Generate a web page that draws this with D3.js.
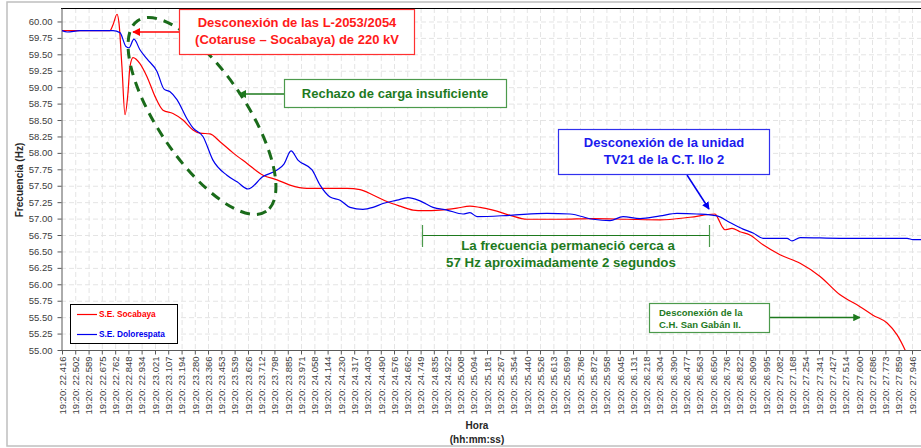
<!DOCTYPE html>
<html>
<head>
<meta charset="utf-8">
<script src="https://cdn.jsdelivr.net/npm/d3@7"></script>
<style>
  body { margin: 0; background: #fff; }
  svg { display: block; font-family: "Liberation Sans", Arial, sans-serif; }
</style>
</head>
<body>
<div class="chart"></div>
<script>
// Tick labels of the time axis (hh:mm: ss.sss)
var tickLabels = [
  "19:20: 22.416", "19:20: 22.502", "19:20: 22.589", "19:20: 22.675", "19:20: 22.762", "19:20: 22.848", "19:20: 22.934",
  "19:20: 23.021", "19:20: 23.107", "19:20: 23.194", "19:20: 23.280", "19:20: 23.366", "19:20: 23.453", "19:20: 23.539",
  "19:20: 23.626", "19:20: 23.712", "19:20: 23.798", "19:20: 23.885", "19:20: 23.971",
  "19:20: 24.058", "19:20: 24.144", "19:20: 24.230", "19:20: 24.317", "19:20: 24.403", "19:20: 24.490", "19:20: 24.576",
  "19:20: 24.662", "19:20: 24.749", "19:20: 24.835", "19:20: 24.922",
  "19:20: 25.008", "19:20: 25.094", "19:20: 25.181", "19:20: 25.267", "19:20: 25.354", "19:20: 25.440", "19:20: 25.526",
  "19:20: 25.613", "19:20: 25.699", "19:20: 25.786", "19:20: 25.872", "19:20: 25.958",
  "19:20: 26.045", "19:20: 26.131", "19:20: 26.218", "19:20: 26.304", "19:20: 26.390", "19:20: 26.477", "19:20: 26.563",
  "19:20: 26.650", "19:20: 26.736", "19:20: 26.822", "19:20: 26.909", "19:20: 26.995",
  "19:20: 27.082", "19:20: 27.168", "19:20: 27.254", "19:20: 27.341", "19:20: 27.427", "19:20: 27.514", "19:20: 27.600",
  "19:20: 27.686", "19:20: 27.773", "19:20: 27.859", "19:20: 27.946"
];

// Frequency axis ticks (Hz)
var freqTicks = [55.00, 55.25, 55.50, 55.75, 56.00, 56.25, 56.50, 56.75, 57.00, 57.25, 57.50, 57.75,
                 58.00, 58.25, 58.50, 58.75, 59.00, 59.25, 59.50, 59.75, 60.00];

// S.E. Socabaya: seconds after 19:20:00 and frequency (Hz)
var socabayaTime = [22.416, 22.728, 22.748, 22.774, 22.787, 22.806, 22.826, 22.845, 22.858, 22.878,
  22.923, 22.969, 23.021, 23.073, 23.138, 23.203, 23.268, 23.314, 23.379, 23.444,
  23.529, 23.620, 23.724, 23.815, 23.899, 24.010, 24.140, 24.270, 24.355, 24.439,
  24.530, 24.615, 24.700, 24.765, 24.875, 24.986, 25.070, 25.135, 25.220, 25.331,
  25.441, 25.656, 25.871, 26.092, 26.307, 26.502, 26.665, 26.685, 26.710, 26.729,
  26.775, 26.827, 26.891, 26.977, 27.087, 27.218, 27.348, 27.478, 27.608, 27.692,
  27.784, 27.849, 27.901, 27.920];
var socabayaFreq = [59.86, 59.86, 59.95, 60.11, 59.97, 59.31, 58.58, 58.91, 59.31, 59.45,
  59.36, 59.16, 58.86, 58.65, 58.60, 58.50, 58.35, 58.30, 58.29, 58.17,
  58.00, 57.84, 57.66, 57.59, 57.51, 57.46, 57.46, 57.46, 57.44, 57.36,
  57.26, 57.19, 57.13, 57.12, 57.13, 57.16, 57.19, 57.17, 57.13, 57.05,
  56.99, 56.99, 57.00, 56.99, 56.98, 57.02, 57.07, 57.00, 56.88, 56.83,
  56.85, 56.80, 56.75, 56.60, 56.45, 56.32, 56.12, 55.84, 55.66, 55.53,
  55.41, 55.23, 55.00, 54.90];

// S.E. Dolorespata: seconds after 19:20:00 and frequency (Hz)
var dolorespataTime = [22.416, 22.450, 22.533, 22.748, 22.793, 22.832, 22.852, 22.884, 22.923, 22.969,
  23.034, 23.080, 23.119, 23.164, 23.229, 23.268, 23.333, 23.398, 23.489, 23.555,
  23.626, 23.724, 23.815, 23.860, 23.906, 23.951, 24.043, 24.095, 24.160, 24.225,
  24.290, 24.374, 24.439, 24.504, 24.596, 24.667, 24.745, 24.830, 24.921, 25.025,
  25.070, 25.116, 25.331, 25.571, 25.721, 25.871, 25.981, 26.066, 26.177, 26.307,
  26.417, 26.547, 26.677, 26.761, 26.847, 26.912, 26.977, 27.133, 27.165, 27.218,
  27.478, 27.914, 27.953, 28.005];
var dolorespataFreq = [59.86, 59.84, 59.86, 59.86, 59.83, 59.62, 59.60, 59.73, 59.57, 59.43,
  59.24, 58.97, 58.93, 58.81, 58.52, 58.38, 58.25, 57.89, 57.66, 57.56,
  57.45, 57.64, 57.74, 57.83, 58.03, 57.89, 57.74, 57.51, 57.33, 57.28,
  57.17, 57.14, 57.17, 57.23, 57.28, 57.32, 57.27, 57.17, 57.13, 57.07,
  57.09, 57.03, 57.05, 57.08, 57.07, 56.99, 56.97, 57.03, 57.00, 57.04,
  57.08, 57.07, 57.04, 56.94, 56.84, 56.78, 56.70, 56.70, 56.66, 56.71,
  56.70, 56.70, 56.68, 56.68];

var svgWidth = 921;
var svgHeight = 448;

// plot area (the right side runs past the picture edge)
var plot = { left: 61, top: 8, right: 935, bottom: 350 };

var svg = d3.select(".chart")
  .append("svg")
  .attr("width", svgWidth)
  .attr("height", svgHeight);

// outer chart border
svg.append("rect")
  .attr("x", 7).attr("y", 2)
  .attr("width", 930).attr("height", 444)
  .attr("fill", "#fff")
  .attr("stroke", "#bfbfbf")
  .attr("stroke-width", 1.5);

var tickTimes = tickLabels.map(d => +d.split(":")[2]);

var x = d3.scaleLinear()
  .domain([tickTimes[0], tickTimes[tickTimes.length - 1]])
  .range([62, 912]);

var y = d3.scaleLinear()
  .domain([55, 60.205])
  .range([plot.bottom, plot.top]);

// grid
svg.append("g")
  .selectAll("line")
  .data(freqTicks.slice(1))
  .enter()
  .append("line")
  .attr("x1", plot.left).attr("x2", plot.right)
  .attr("y1", d => y(d) + 0.5).attr("y2", d => y(d) + 0.5)
  .attr("stroke", "#e4e4e4")
  .attr("stroke-dasharray", "5,3");

svg.append("g")
  .selectAll("line")
  .data(tickTimes.slice(1))
  .enter()
  .append("line")
  .attr("x1", d => x(d) + 0.5).attr("x2", d => x(d) + 0.5)
  .attr("y1", plot.top).attr("y2", plot.bottom)
  .attr("stroke", "#e4e4e4")
  .attr("stroke-dasharray", "5,3");

// plot top border
svg.append("line")
  .attr("x1", plot.left).attr("x2", plot.right)
  .attr("y1", plot.top + 0.5).attr("y2", plot.top + 0.5)
  .attr("stroke", "#000");

// axes
var leftAxis = d3.axisLeft(y)
  .tickValues(freqTicks)
  .tickFormat(d3.format(".2f"))
  .tickSize(4)
  .tickPadding(5)
  .tickSizeOuter(0);

var yAxisG = svg.append("g")
  .attr("transform", `translate(${plot.left + 0.5},0)`)
  .call(leftAxis);
yAxisG.select(".domain").attr("stroke", "#595959");
yAxisG.selectAll(".tick line").attr("stroke", "#595959");
yAxisG.selectAll("text")
  .attr("fill", "#404040")
  .style("font-size", "9.5px")
  .style("font-family", "Liberation Sans, Arial, sans-serif");

var bottomAxis = d3.axisBottom(x)
  .tickValues(tickTimes)
  .tickFormat((d, i) => tickLabels[i])
  .tickSize(4)
  .tickSizeOuter(0);

var xAxisG = svg.append("g")
  .attr("transform", `translate(0,${plot.bottom + 0.5})`)
  .call(bottomAxis);
xAxisG.select(".domain")
  .attr("stroke", "#595959")
  .attr("d", `M${plot.left},0H${plot.right}`);
xAxisG.selectAll(".tick line").attr("stroke", "#595959");
xAxisG.selectAll("text")
  .attr("fill", "#404040")
  .style("font-size", "9.5px")
  .style("font-family", "Liberation Sans, Arial, sans-serif")
  .attr("text-anchor", "end")
  .attr("transform", "rotate(-90)")
  .attr("x", -6)
  .attr("y", 0)
  .attr("dy", "0.35em");

// axis titles
svg.append("text")
  .attr("transform", "translate(23,180) rotate(-90)")
  .attr("text-anchor", "middle")
  .style("font-size", "10px")
  .style("font-weight", "bold")
  .attr("fill", "#262626")
  .text("Frecuencia (Hz)");

svg.append("text")
  .attr("x", 477).attr("y", 429)
  .attr("text-anchor", "middle")
  .style("font-size", "10px")
  .style("font-weight", "bold")
  .attr("fill", "#262626")
  .text("Hora");

svg.append("text")
  .attr("x", 477).attr("y", 443)
  .attr("text-anchor", "middle")
  .style("font-size", "10px")
  .style("font-weight", "bold")
  .attr("fill", "#262626")
  .text("(hh:mm:ss)");

// series
svg.append("clipPath").attr("id", "clip")
  .append("rect")
  .attr("x", plot.left).attr("y", plot.top)
  .attr("width", plot.right - plot.left).attr("height", plot.bottom - plot.top);

var line = d3.line()
  .x(d => x(d[0]))
  .y(d => y(d[1]))
  .curve(d3.curveMonotoneX);

var lines = svg.append("g").attr("clip-path", "url(#clip)");

lines.append("path")
  .datum(d3.zip(socabayaTime, socabayaFreq))
  .attr("d", line)
  .attr("fill", "none")
  .attr("stroke", "#ff0000")
  .attr("stroke-width", 1.2);

lines.append("path")
  .datum(d3.zip(dolorespataTime, dolorespataFreq))
  .attr("d", line)
  .attr("fill", "none")
  .attr("stroke", "#0000ee")
  .attr("stroke-width", 1.2);

// arrow markers
var defs = svg.append("defs");
function marker(id, color) {
  defs.append("marker")
    .attr("id", id)
    .attr("viewBox", "0 0 10 10")
    .attr("refX", 9).attr("refY", 5)
    .attr("markerWidth", 5).attr("markerHeight", 5)
    .attr("markerUnits", "strokeWidth")
    .attr("orient", "auto")
    .append("path")
    .attr("d", "M0,0L10,5L0,10Z")
    .attr("fill", color);
}
marker("arrRed", "#ff0000");
marker("arrGreen", "#1e7a1e");
marker("arrBlue", "#0000ee");

// green dashed ellipse
svg.append("ellipse")
  .attr("cx", 202).attr("cy", 116)
  .attr("rx", 115).attr("ry", 44)
  .attr("transform", "rotate(56,202,116)")
  .attr("fill", "none")
  .attr("stroke", "#1a6b1a")
  .attr("stroke-width", 3)
  .attr("stroke-dasharray", "10,7");

// annotation boxes
function box(x0, y0, w, h, color) {
  svg.append("rect")
    .attr("x", x0 + 0.5).attr("y", y0 + 0.5)
    .attr("width", w).attr("height", h)
    .attr("fill", "#fff")
    .attr("stroke", color)
    .attr("stroke-width", 1.2);
}
function label(txt, x0, y0, size, color, anchor) {
  svg.append("text")
    .attr("x", x0).attr("y", y0)
    .attr("text-anchor", anchor || "middle")
    .style("font-size", size + "px")
    .style("font-weight", "bold")
    .attr("fill", color)
    .text(txt);
}
function arrow(x1, y1, x2, y2, color, id, w) {
  svg.append("line")
    .attr("x1", x1).attr("y1", y1)
    .attr("x2", x2).attr("y2", y2)
    .attr("stroke", color)
    .attr("stroke-width", w || 1.5)
    .attr("marker-end", `url(#${id})`);
}

// L-2053/2054
arrow(180, 32, 133, 32, "#ff0000", "arrRed", 1.6);
box(179, 9, 235, 45, "#ff3030");
label("Desconexión de las L-2053/2054", 297, 27, 13, "#ff1a1a");
label("(Cotaruse – Socabaya) de 220 kV", 297, 44, 13, "#ff1a1a");

// Rechazo de carga
arrow(284, 94, 239, 94, "#1e7a1e", "arrGreen", 1.6);
box(284, 79, 222, 28, "#4c9a4c");
label("Rechazo de carga insuficiente", 395, 98, 13, "#1e7a1e");

// TV21
arrow(687, 175, 709, 209, "#0000ee", "arrBlue", 1.5);
box(558, 129, 211, 45, "#3030ee");
label("Desconexión de la unidad", 664, 147, 13, "#1a1aee");
label("TV21 de la C.T. Ilo 2", 664, 164, 13, "#1a1aee");

// bracket ~2 s near 57 Hz
svg.append("line")
  .attr("x1", 422).attr("x2", 709)
  .attr("y1", 235.5).attr("y2", 235.5)
  .attr("stroke", "#1e7a1e").attr("stroke-width", 1.2);
[422, 709].forEach(function(bx) {
  svg.append("line")
    .attr("x1", bx + 0.5).attr("x2", bx + 0.5)
    .attr("y1", 225).attr("y2", 247)
    .attr("stroke", "#4c9a4c").attr("stroke-width", 1.2);
});
label("La frecuencia permaneció cerca a", 568, 250, 13.3, "#1e7a1e");
label("57 Hz aproximadamente 2 segundos", 561, 267, 13.3, "#1e7a1e");

// San Gabán
arrow(769, 317.5, 860, 317.5, "#1e7a1e", "arrGreen", 1.5);
box(649, 303, 120, 29, "#4c9a4c");
label("Desconexión de la", 659, 316, 9.5, "#1e7a1e", "start");
label("C.H. San Gabán II.", 659, 328, 9.5, "#1e7a1e", "start");

// legend
svg.append("rect")
  .attr("x", 70.5).attr("y", 304.5)
  .attr("width", 107).attr("height", 39)
  .attr("fill", "#fff")
  .attr("stroke", "#000")
  .attr("stroke-width", 1);

var legendItems = [
  { name: "S.E. Socabaya", color: "#ff0000", ty: 314 },
  { name: "S.E. Dolorespata", color: "#0000ee", ty: 334 }
];
legendItems.forEach(function(d) {
  svg.append("line")
    .attr("x1", 77).attr("x2", 97)
    .attr("y1", d.ty + 0.5).attr("y2", d.ty + 0.5)
    .attr("stroke", d.color).attr("stroke-width", 1.2);
  svg.append("text")
    .attr("x", 99).attr("y", d.ty + 3)
    .style("font-size", "8.3px")
    .style("font-weight", "bold")
    .attr("fill", d.color)
    .text(d.name);
});
</script>
</body>
</html>
